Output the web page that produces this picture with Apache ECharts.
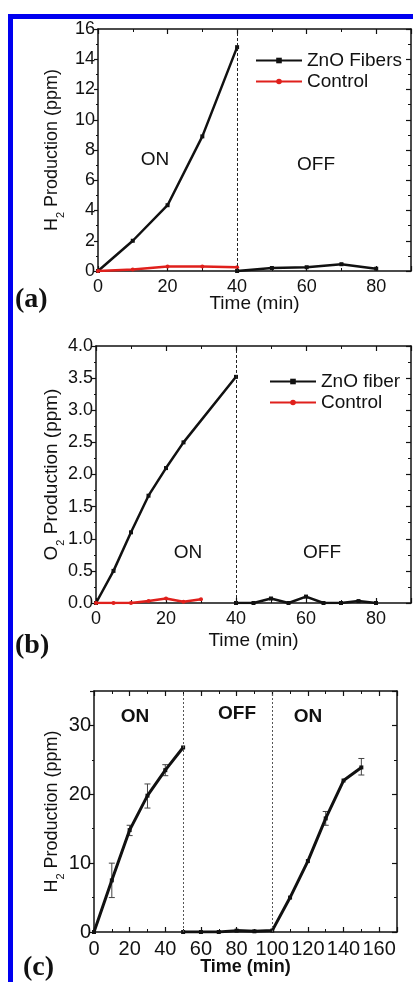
<!DOCTYPE html>
<html>
<head>
<meta charset="utf-8">
<script src="https://cdn.jsdelivr.net/npm/echarts@6/dist/echarts.min.js"></script>
<style>
  html, body { margin: 0; padding: 0; background: #fff; }
  #frame { position: absolute; left: 8px; top: 14px; width: 420px; height: 980px;
           border-top: 5px solid #0000f0; border-left: 5px solid #0000f0; }
  #main { position: absolute; left: 0; top: 0; width: 413px; height: 982px; }
</style>
</head>
<body>
<div id="frame"></div>
<div id="main"></div>
<script>
// (a) H2
var aOnTime = [0, 10, 20, 30, 40];
var aOnZnO = [0, 2.0, 4.35, 8.9, 14.8];
var aOffTime = [40, 50, 60, 70, 80];
var aOffZnO = [0, 0.2, 0.25, 0.45, 0.15];
var aCtrlTime = [0, 10, 20, 30, 40];
var aCtrl = [0, 0.1, 0.3, 0.3, 0.25];

// (b) O2
var bOnTime = [0, 5, 10, 15, 20, 25, 40];
var bOnZnO = [0, 0.5, 1.1, 1.67, 2.1, 2.5, 3.52];
var bOffTime = [40, 45, 50, 55, 60, 65, 70, 75, 80];
var bOffZnO = [0, 0, 0.07, 0, 0.1, 0, 0, 0.03, 0];
var bCtrlTime = [0, 5, 10, 15, 20, 25, 30];
var bCtrl = [0, 0, 0, 0.03, 0.07, 0.02, 0.06];

// (c) H2 cycling
var cTime1 = [0, 10, 20, 30, 40, 50];
var cVal1 = [0, 7.5, 14.8, 19.8, 23.5, 26.8];
var cTime2 = [50, 60, 70, 80, 90, 100, 110, 120, 130, 140, 150];
var cVal2 = [0, 0, 0, 0.2, 0.1, 0.2, 5, 10.3, 16.5, 22, 23.9];
var cErrTime = [10, 20, 30, 40, 130, 150];
var cErrLow = [5, 14, 18, 22.7, 15.5, 22.8];
var cErrHigh = [10, 15.5, 21.5, 24.3, 17.5, 25.2];

function pairs(xs, ys) {
    var out = [];
    for (var i = 0; i < xs.length; i++) out.push([xs[i], ys[i]]);
    return out;
}
function broken(x1, y1, x2, y2) {
    return pairs(x1, y1).concat([[x2[0], '-']]).concat(pairs(x2, y2));
}

var font = 'Liberation Sans, Arial, sans-serif';
var black = '#111';

function xAx(grid, max, interval, size, bold, gap, nameSize) {
    return [{
        type: 'value', gridIndex: grid, min: 0, max: max, interval: interval,
        name: 'Time (min)', nameLocation: 'middle', nameGap: gap, nameMoveOverlap: false,
        nameTextStyle: { fontFamily: font, fontSize: nameSize, color: black, fontWeight: bold ? 'bold' : 'normal' },
        axisLine: { onZero: false, lineStyle: { color: black, width: 1.5 } },
        axisTick: { inside: true, length: 5, lineStyle: { color: black, width: 1.2 } },
        minorTick: { show: true, splitNumber: 2, length: 3, lineStyle: { color: black } },
        axisLabel: { fontFamily: font, fontSize: size, color: black, margin: 7, showMaxLabel: false },
        splitLine: { show: false }
    }, {
        type: 'value', gridIndex: grid, position: 'top', min: 0, max: max, interval: interval,
        axisLine: { onZero: false, lineStyle: { color: black, width: 1.5 } },
        axisTick: { inside: true, length: 5, lineStyle: { color: black, width: 1.2 } },
        minorTick: { show: true, splitNumber: 2, length: 3, lineStyle: { color: black } },
        axisLabel: { show: false }, splitLine: { show: false }
    }];
}
function yAx(grid, max, interval, size, gas, gap, digits, nameSize) {
    return [{
        type: 'value', gridIndex: grid, min: 0, max: max, interval: interval,
        name: '{a|' + gas + '}{s|2}{a| Production (ppm)}', nameLocation: 'middle', nameGap: gap, nameMoveOverlap: false,
        nameTextStyle: { rich: {
            a: { fontFamily: font, fontSize: nameSize, color: black },
            s: { fontFamily: font, fontSize: 11, color: black, verticalAlign: 'bottom', padding: [0, 0, -5, 0] }
        } },
        axisLine: { onZero: false, lineStyle: { color: black, width: 1.5 } },
        axisTick: { inside: false, length: 4, lineStyle: { color: black, width: 1.2 } },
        minorTick: { show: true, splitNumber: 2, length: 2, lineStyle: { color: black } },
        axisLabel: { fontFamily: font, fontSize: size, color: black, margin: 3, showMaxLabel: max % interval === 0,
            formatter: function (v) { return v.toFixed(digits); } },
        splitLine: { show: false }
    }, {
        type: 'value', gridIndex: grid, position: 'right', min: 0, max: max, interval: interval,
        axisLine: { onZero: false, lineStyle: { color: black, width: 1.5 } },
        axisTick: { inside: true, length: 5, lineStyle: { color: black, width: 1.2 } },
        minorTick: { show: true, splitNumber: 2, length: 3, lineStyle: { color: black } },
        axisLabel: { show: false }, splitLine: { show: false }
    }];
}
function vline(x) {
    return { silent: true, symbol: 'none', label: { show: false },
        lineStyle: { color: '#222', type: [3, 2], width: 1 }, data: [{ xAxis: x }] };
}
function text(x, y, s, size, bold) {
    return { type: 'text', x: x, y: y, style: { text: s, fontFamily: font, fontSize: size,
        fontWeight: bold ? 'bold' : 'normal', fill: black, align: 'center', verticalAlign: 'middle' } };
}
function label(x, y, s) {
    return { type: 'text', left: x, top: y, style: { text: s, fontFamily: 'Liberation Serif, Times New Roman, serif',
        fontSize: 28, fontWeight: 'bold', fill: black } };
}

var chart = echarts.init(document.getElementById('main'));
var legendText = { fontFamily: font, fontSize: 19, color: black };
var option = {
    animation: false,
    grid: [
        { left: 98, top: 29, width: 313, height: 242 },
        { left: 96, top: 346, width: 315, height: 257 },
        { left: 94, top: 691, width: 303, height: 241 }
    ],
    xAxis: [].concat(xAx(0, 90, 20, 18, false, 23, 19), xAx(1, 90, 20, 18, false, 28, 19), xAx(2, 170, 20, 20, true, 26, 18)),
    yAxis: [].concat(yAx(0, 16, 2, 18, 'H', 37, 0, 18), yAx(1, 4, 0.5, 18, 'O', 35, 1, 19), yAx(2, 35, 10, 20, 'H', 33, 0, 18)),
    legend: [
        { orient: 'vertical', left: 250, top: 46, itemWidth: 46, itemHeight: 7, itemGap: 2, textStyle: legendText,
          data: ['ZnO Fibers', 'Control'] },
        { orient: 'vertical', left: 264, top: 367, itemWidth: 46, itemHeight: 7, itemGap: 2, textStyle: legendText,
          data: ['ZnO fiber', 'Control '] }
    ],
    series: [
        { name: 'ZnO Fibers', type: 'line', xAxisIndex: 0, yAxisIndex: 0, data: broken(aOnTime, aOnZnO, aOffTime, aOffZnO),
          symbol: 'rect', symbolSize: 4, color: black, lineStyle: { width: 2.5 }, markLine: vline(40), z: 3 },
        { name: 'Control', type: 'line', xAxisIndex: 0, yAxisIndex: 0, data: pairs(aCtrlTime, aCtrl),
          symbol: 'circle', symbolSize: 4, color: '#e0201c', lineStyle: { width: 2.5 }, z: 4 },
        { name: 'ZnO fiber', type: 'line', xAxisIndex: 2, yAxisIndex: 2, data: broken(bOnTime, bOnZnO, bOffTime, bOffZnO),
          symbol: 'rect', symbolSize: 4, color: black, lineStyle: { width: 2.5 }, markLine: vline(40), z: 3 },
        { name: 'Control ', type: 'line', xAxisIndex: 2, yAxisIndex: 2, data: pairs(bCtrlTime, bCtrl),
          symbol: 'circle', symbolSize: 4, color: '#e0201c', lineStyle: { width: 2.5 }, z: 4 },
        { name: 'c', type: 'line', xAxisIndex: 4, yAxisIndex: 4, data: broken(cTime1, cVal1, cTime2, cVal2),
          symbol: 'rect', symbolSize: 4, color: black, lineStyle: { width: 3 }, markLine: { silent: true, symbol: 'none',
          label: { show: false }, lineStyle: { color: '#555', type: [2, 2], width: 1 }, data: [{ xAxis: 50 }, { xAxis: 100 }] }, z: 3 },
        { name: 'err', type: 'custom', xAxisIndex: 4, yAxisIndex: 4, z: 2,
          data: cErrTime.map(function (t, i) { return [t, cErrLow[i], cErrHigh[i]]; }),
          renderItem: function (params, api) {
              var lo = api.coord([api.value(0), api.value(1)]);
              var hi = api.coord([api.value(0), api.value(2)]);
              var w = 3;
              var st = { stroke: '#444', lineWidth: 1 };
              return { type: 'group', children: [
                  { type: 'line', shape: { x1: lo[0], y1: lo[1], x2: hi[0], y2: hi[1] }, style: st },
                  { type: 'line', shape: { x1: lo[0] - w, y1: lo[1], x2: lo[0] + w, y2: lo[1] }, style: st },
                  { type: 'line', shape: { x1: hi[0] - w, y1: hi[1], x2: hi[0] + w, y2: hi[1] }, style: st }
              ] };
          } }
    ],
    graphic: [
        text(155, 160, 'ON', 19), text(316, 165, 'OFF', 19),
        text(188, 553, 'ON', 19), text(322, 553, 'OFF', 19),
        text(135, 717, 'ON', 19, true), text(237, 714, 'OFF', 19, true), text(308, 717, 'ON', 19, true),
        label(15, 286, '(a)'), label(15, 632, '(b)'), label(23, 954, '(c)')
    ]
};
chart.setOption(option);
</script>
</body>
</html>
